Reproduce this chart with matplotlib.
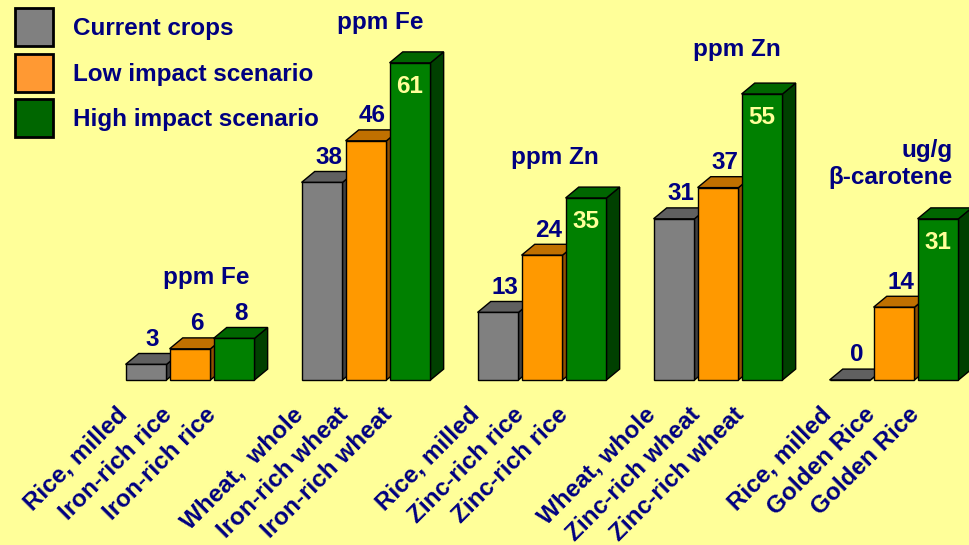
import matplotlib
matplotlib.use("Agg")
import matplotlib.pyplot as plt
from matplotlib.patches import Polygon, Rectangle

plt.rcParams['font.family'] = ['Liberation Sans', 'DejaVu Sans']
plt.rcParams['font.weight'] = 'bold'

series = ['Current crops', 'Low impact scenario', 'High impact scenario']
crop_labels = [
    ['Rice, milled', 'Iron-rich rice', 'Iron-rich rice'],
    ['Wheat,  whole', 'Iron-rich wheat', 'Iron-rich wheat'],
    ['Rice, milled', 'Zinc-rich rice', 'Zinc-rich rice'],
    ['Wheat, whole', 'Zinc-rich wheat', 'Zinc-rich wheat'],
    ['Rice, milled', 'Golden Rice', 'Golden Rice'],
]
values = [
    [3, 6, 8],
    [38, 46, 61],
    [13, 24, 35],
    [31, 37, 55],
    [0, 14, 31],
]
units = ['ppm Fe', 'ppm Fe', 'ppm Zn', 'ppm Zn', 'ug/g\nβ-carotene']

# layout
NAVY = '#000080'
BG = '#FFFF99'
front = ['#808080', '#FF9900', '#008000']
top = ['#606060', '#C07000', '#006600']
side = ['#404040', '#905000', '#004000']
legend_col = ['#808080', '#FF9933', '#006600']
unit_dx = [0.36, 0.32, 0.30, 0.43, -0.07]
unit_dy = [11.8, 7.8, 7.7, 8.5, 10.5]
width = 0.93
dx, dy = 0.30, 2.1
group_step = 4
fs = 17.5

fig = plt.figure(figsize=(9.70, 5.45), dpi=100)
fig.patch.set_facecolor(BG)
ax = fig.add_axes([0, 0, 1, 1])
ax.set_facecolor(BG)
ax.set_xlim(-3.318, 18.727)
ax.set_ylim(-31.73, 73.08)
ax.axis('off')

for g, vals in enumerate(values):
    for j, v in enumerate(vals):
        xc = g * group_step + j
        x0, x1 = xc - width / 2, xc + width / 2
        z = 2 + g * 3 + j
        # side face
        ax.add_patch(Polygon([(x1, 0), (x1 + dx, dy), (x1 + dx, v + dy), (x1, v)],
                             closed=True, fc=side[j], ec='black', lw=1, zorder=z))
        # top face
        ax.add_patch(Polygon([(x0, v), (x1, v), (x1 + dx, v + dy), (x0 + dx, v + dy)],
                             closed=True, fc=top[j], ec='black', lw=1, zorder=z))
        # front face
        ax.bar(xc, v, width=width, color=front[j], edgecolor='black', lw=1, zorder=z)
        if j == 2 and v > 15:
            ax.text(xc, v - 4.5, str(v), ha='center', va='center', color=BG,
                    fontsize=fs, fontweight='bold', zorder=50)
        else:
            ax.text(xc + dx / 2, v + dy + 0.5, str(v), ha='center', va='bottom',
                    color=NAVY, fontsize=fs, fontweight='bold', zorder=50)
        ax.text(xc - 0.68, -4.4, crop_labels[g][j], rotation=45, rotation_mode='anchor',
                ha='right', va='top', color=NAVY, fontsize=fs, fontweight='bold')
    ax.text(g * group_step + 1 + unit_dx[g], max(vals) + unit_dy[g], units[g],
            ha='center', va='center', multialignment='right', color=NAVY,
            fontsize=fs, fontweight='bold', linespacing=1.2)

# legend boxes, pixel positions from the top-left corner
for i, name in enumerate(series):
    y_top = 8 + i * 45.5
    fig.patches.append(Rectangle((15 / 970, 1 - (y_top + 38) / 545), 38 / 970, 38 / 545,
                                 transform=fig.transFigure, fc=legend_col[i], ec='black', lw=2))
    fig.text(73 / 970, 1 - (y_top + 27) / 545, name, ha='left', va='baseline',
             color=NAVY, fontsize=fs, fontweight='bold')

fig.savefig('out.png', dpi=100, facecolor=BG)
